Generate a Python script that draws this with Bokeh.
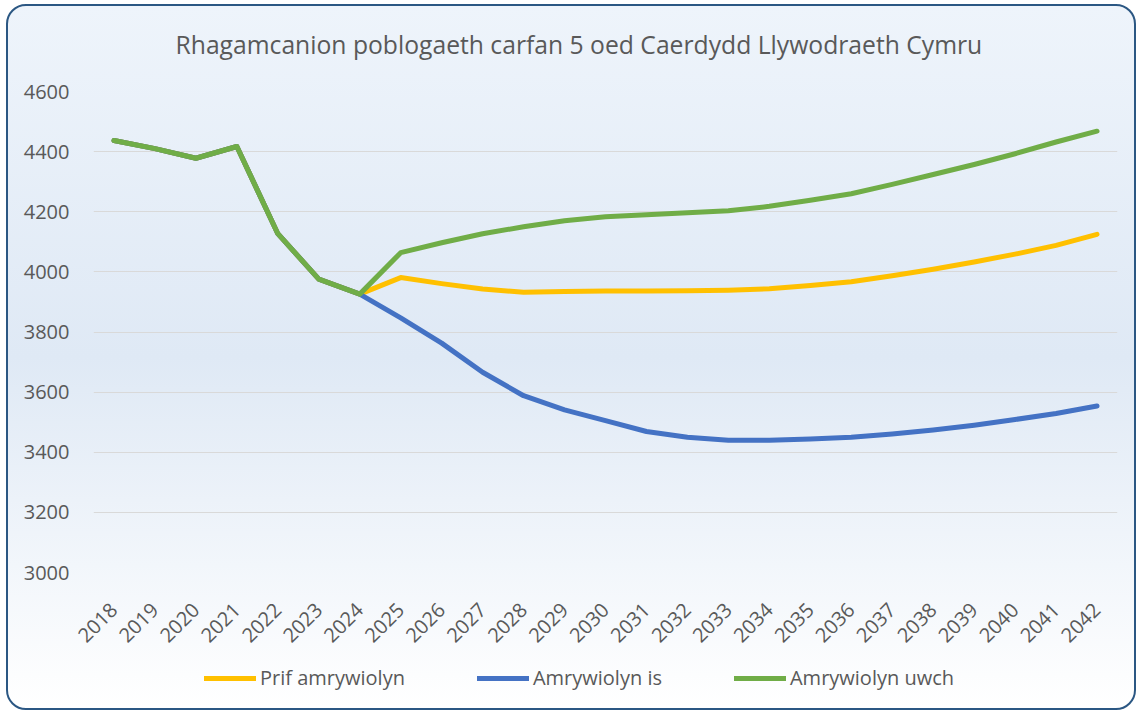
import math
from bokeh.plotting import figure
from bokeh.layouts import column
from bokeh.models import Legend, LegendItem, FactorRange, Range1d, FixedTicker, Label
from bokeh.embed import file_html
from bokeh.resources import INLINE

years = [str(y) for y in range(2018, 2043)]

prif_amrywiolyn = [4437, 4410, 4378, 4417, 4127, 3976, 3926, 3981, 3961, 3943,
                   3932, 3935, 3936, 3936, 3937, 3939, 3944, 3955, 3967, 3987,
                   4009, 4033, 4059, 4088, 4125]
amrywiolyn_is = [4437, 4410, 4378, 4417, 4127, 3976, 3926, 3847, 3763, 3666,
                 3588, 3541, 3505, 3469, 3450, 3440, 3440, 3444, 3450, 3461,
                 3474, 3490, 3509, 3529, 3554]
amrywiolyn_uwch = [4437, 4410, 4378, 4417, 4127, 3976, 3926, 4064, 4097, 4127,
                   4150, 4170, 4183, 4190, 4197, 4203, 4218, 4238, 4260, 4291,
                   4324, 4357, 4393, 4432, 4468]

y_ticks = [3000, 3200, 3400, 3600, 3800, 4000, 4200, 4400, 4600]

series_names = ["Prif amrywiolyn", "Amrywiolyn is", "Amrywiolyn uwch"]
series_colors = ["#FFC000", "#4472C4", "#70AD47"]
title_text = "Rhagamcanion poblogaeth carfan 5 oed Caerdydd Llywodraeth Cymru"

FONT = "Open Sans"
GREY = "#595959"


def strip(height):
    f = figure(
        width=1126, height=height, output_backend="svg", toolbar_location=None,
        title=None, x_axis_type=None, y_axis_type=None,
        x_range=Range1d(0, 1), y_range=Range1d(0, 1),
        min_border_left=0, min_border_right=0, min_border_top=0, min_border_bottom=0,
    )
    f.border_fill_color = None
    f.background_fill_color = None
    f.outline_line_color = None
    f.xgrid.grid_line_color = None
    f.ygrid.grid_line_color = None
    return f


# title strip
tf = strip(60)
tf.add_layout(Label(
    x=82, y=22, x_units="screen", y_units="screen", text=title_text,
    text_font=FONT, text_font_size="24.7px", text_color=GREY,
    text_align="left", text_baseline="middle",
))

# main chart
p = figure(
    x_range=FactorRange(factors=years, range_padding=0),
    y_range=Range1d(3000, 4600),
    width=1126, height=590, title=None,
    output_backend="svg", toolbar_location=None,
    min_border_left=85, min_border_right=17, min_border_top=25, min_border_bottom=84,
)
p.border_fill_color = None
p.background_fill_color = None
p.outline_line_color = None

for name, vals, col in zip(series_names, [prif_amrywiolyn, amrywiolyn_is, amrywiolyn_uwch], series_colors):
    p.line(years, vals, line_color=col, line_width=5, line_join="round", line_cap="round")

p.xgrid.grid_line_color = None
p.ygrid.grid_line_color = "#d9d9d9"
p.ygrid.grid_line_width = 1
p.yaxis.ticker = FixedTicker(ticks=y_ticks)

for ax in (p.xaxis[0], p.yaxis[0]):
    ax.axis_line_color = None
    ax.major_tick_line_color = None
    ax.minor_tick_line_color = None
    ax.major_tick_out = 0
    ax.major_tick_in = 0
    ax.major_label_text_font = FONT
    ax.major_label_text_font_size = "20px"
    ax.major_label_text_color = GREY

p.yaxis.major_label_standoff = 24
p.xaxis.major_label_orientation = math.pi / 4
p.xaxis.major_label_standoff = 34

# legend strip
lg = strip(52)
proxies = []
for name, col in zip(series_names, series_colors):
    r = lg.line(x=[float("nan")], y=[float("nan")], line_color=col, line_width=5, line_cap="round")
    proxies.append((name, r))

legend = Legend(
    items=[LegendItem(label=n, renderers=[r]) for n, r in proxies],
    orientation="horizontal",
    location=(111, 17),
    label_text_font=FONT,
    label_text_font_size="20px",
    label_text_color=GREY,
    glyph_width=52,
    glyph_height=20,
    label_standoff=4,
    spacing=72,
    padding=0,
    margin=0,
    border_line_color=None,
    background_fill_color=None,
)
lg.add_layout(legend, "center")

layout = column(tf, p, lg, spacing=0, styles={
    "background": "linear-gradient(to bottom, #eef4fb 0%, #dfe9f5 50%, #ffffff 100%)",
    "border": "2px solid #2b5783",
    "border-radius": "20px",
    "margin": "4px 0 0 6px",
})

open("out.html", "w").write(file_html(layout, INLINE))
